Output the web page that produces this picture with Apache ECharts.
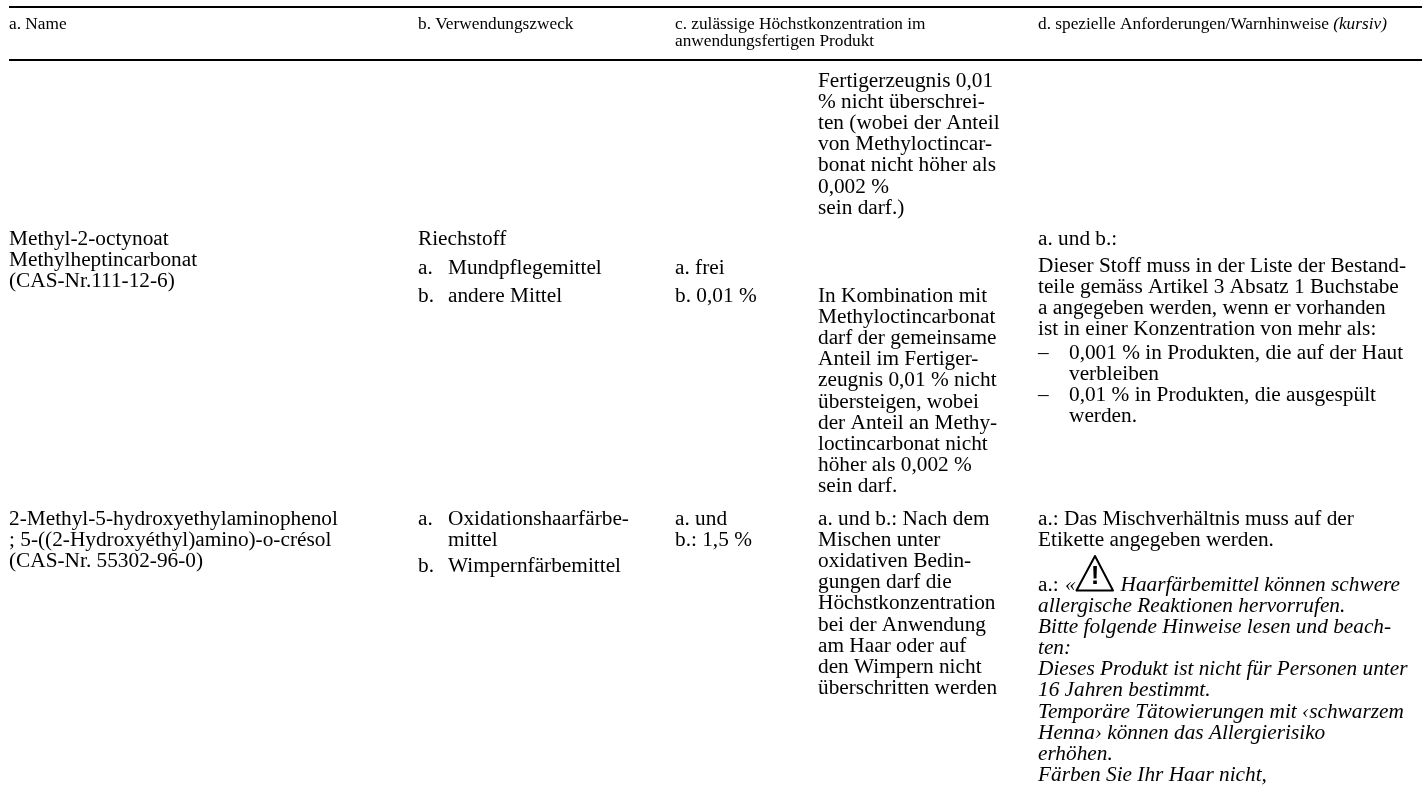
<!DOCTYPE html>
<html>
<head>
<meta charset="utf-8">
<style>html,body{margin:0;padding:0;background:#fff}#main{width:1422px;height:786px}</style>
<script src="https://cdn.jsdelivr.net/npm/echarts@6/dist/echarts.min.js"></script>
</head>
<body>
<div id="main"></div>
<script>
const headA = ['a. Name'];
const headB = ['b. Verwendungszweck'];
const headC = ['c. zulässige Höchstkonzentration im', 'anwendungsfertigen Produkt'];
const headD = ['{n|d. spezielle Anforderungen/Warnhinweise }{i|(kursiv)}'];

const contC = ['Fertigerzeugnis 0,01', '% nicht überschrei-', 'ten (wobei der Anteil', 'von Methyloctincar-', 'bonat nicht höher als', '0,002 %', 'sein darf.)'];

const row1Name = ['Methyl-2-octynoat', 'Methylheptincarbonat', '(CAS-Nr.111-12-6)'];
const row1Use = ['Riechstoff'];
const row1UseKeys = ['a.', 'b.'];
const row1UseItems = ['Mundpflegemittel', 'andere Mittel'];
const row1Max = ['a. frei', 'b. 0,01 %'];
const row1Note = ['In Kombination mit', 'Methyloctincarbonat', 'darf der gemeinsame', 'Anteil im Fertiger-', 'zeugnis 0,01 % nicht', 'übersteigen, wobei', 'der Anteil an Methy-', 'loctincarbonat nicht', 'höher als 0,002 %', 'sein darf.'];
const row1ReqHead = ['a. und b.:'];
const row1Req = ['Dieser Stoff muss in der Liste der Bestand-', 'teile gemäss Artikel 3 Absatz 1 Buchstabe', 'a angegeben werden, wenn er vorhanden', 'ist in einer Konzentration von mehr als:'];
const row1Dash1 = ['0,001 % in Produkten, die auf der Haut', 'verbleiben'];
const row1Dash2 = ['0,01 % in Produkten, die ausgespült', 'werden.'];

const row2Name = ['2-Methyl-5-hydroxyethylaminophenol', '; 5-((2-Hydroxyéthyl)amino)-o-crésol', '(CAS-Nr. 55302-96-0)'];
const row2UseKeys = ['a.', 'b.'];
const row2UseA = ['Oxidationshaarfärbe-', 'mittel'];
const row2UseB = ['Wimpernfärbemittel'];
const row2Max = ['a. und', 'b.: 1,5 %'];
const row2Note = ['a. und b.: Nach dem', 'Mischen unter', 'oxidativen Bedin-', 'gungen darf die', 'Höchstkonzentration', 'bei der Anwendung', 'am Haar oder auf', 'den Wimpern nicht', 'überschritten werden'];
const row2Req = ['a.: Das Mischverhältnis muss auf der', 'Etikette angegeben werden.'];
const warnPrefix = 'a.: ';
const warnQuote = '«';
const warnFirst = 'Haarfärbemittel können schwere';
const warnLines = ['allergische Reaktionen hervorrufen.', 'Bitte folgende Hinweise lesen und beach-', 'ten:', 'Dieses Produkt ist nicht für Personen unter', '16 Jahren bestimmt.', 'Temporäre Tätowierungen mit ‹schwarzem', 'Henna› können das Allergierisiko', 'erhöhen.', 'Färben Sie Ihr Haar nicht,'];

const FONT = '"Liberation Serif", "Times New Roman", serif';
const BODY = 21.3, HEAD = 17.3;
const PITCH = 21.2;
const elements = [];

function put(lines, x, y, opt) {
    opt = opt || {};
    const size = opt.size || BODY;
    lines.forEach((t, i) => {
        const style = {
            text: t, x: x, y: y + i * (opt.pitch || PITCH),
            fill: '#000', font: (opt.italic ? 'italic ' : '') + size + 'px ' + FONT,
            verticalAlign: 'middle'
        };
        if (opt.rich) style.rich = opt.rich;
        elements.push({type: 'text', style: style, silent: true});
    });
}
function rule(y, w) {
    elements.push({type: 'line', shape: {x1: 9, y1: y, x2: 1422, y2: y}, style: {stroke: '#000', lineWidth: w}});
}

rule(7, 2);
rule(60, 2);

const colA = 9, colB = 418, colBText = 448, colC = 675, colCNote = 818, colD = 1038, dashText = 1069;

put(headA, colA, 24.5, {size: HEAD});
put(headB, colB, 24.5, {size: HEAD});
put(headC, colC, 24.5, {size: HEAD, pitch: 17});
put(headD, colD, 24.5, {size: HEAD, rich: {
    n: {font: HEAD + 'px ' + FONT, fill: '#000'},
    i: {font: 'italic ' + HEAD + 'px ' + FONT, fill: '#000'}
}});

put(contC, colCNote, 81);

put(row1Name, colA, 239);
put(row1Use, colB, 239);
put([row1UseKeys[0]], colB, 268);
put([row1UseItems[0]], colBText, 268);
put([row1UseKeys[1]], colB, 296);
put([row1UseItems[1]], colBText, 296);
put([row1Max[0]], colC, 268);
put([row1Max[1]], colC, 296);
put(row1Note, colCNote, 296);
put(row1ReqHead, colD, 239);
put(row1Req, colD, 266);
put(['–'], colD, 353);
put(row1Dash1, dashText, 353);
put(['–'], colD, 395.5);
put(row1Dash2, dashText, 395.5);

put(row2Name, colA, 519);
put([row2UseKeys[0]], colB, 519);
put(row2UseA, colBText, 519);
put([row2UseKeys[1]], colB, 566);
put(row2UseB, colBText, 566);
put(row2Max, colC, 519);
put(row2Note, colCNote, 519);
put(row2Req, colD, 519);

put([warnPrefix], colD, 585);
put([warnQuote], 1065, 585, {italic: true});
put([warnFirst], 1120.5, 585, {italic: true});
put(warnLines, colD, 606, {italic: true});

// warning triangle
elements.push({
    type: 'polygon',
    shape: {points: [[1095, 556], [1076.5, 590.5], [1113, 590.5]]},
    style: {fill: 'none', stroke: '#000', lineWidth: 2, lineJoin: 'round'}
});
elements.push({type: 'text', style: {text: '!', x: 1095, y: 577, fill: '#000', align: 'center', verticalAlign: 'middle', font: 'bold 26px "Liberation Sans", sans-serif'}, silent: true});

const chart = echarts.init(document.getElementById('main'), null, {renderer: 'canvas'});
chart.setOption({
    backgroundColor: '#ffffff',
    animation: false,
    graphic: {elements: elements}
});
</script>
</body>
</html>
